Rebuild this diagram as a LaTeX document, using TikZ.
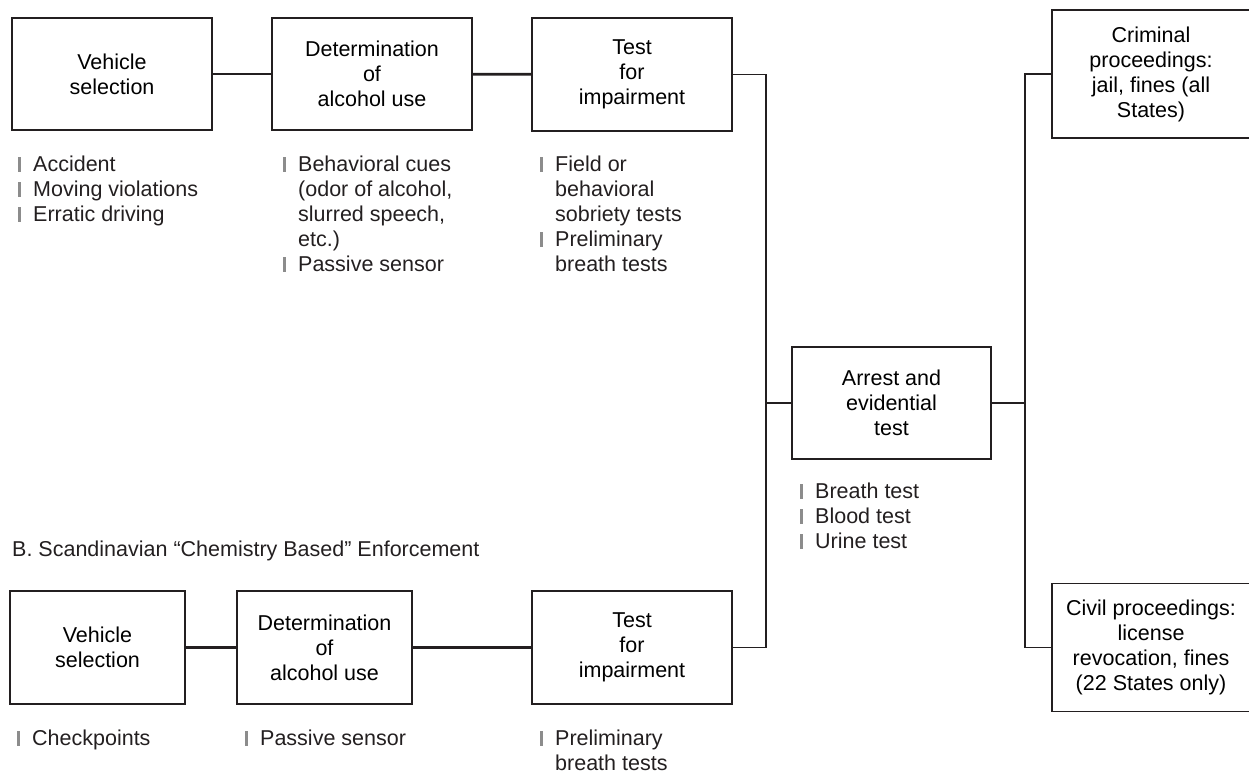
\documentclass[tikz,border=0pt]{standalone}
\usepackage{fontspec}
\setmainfont{Liberation Sans}
\usepackage{tikz}
\definecolor{ink}{HTML}{231F20}
\newcommand{\bul}{\makebox[15pt][l]{\textcolor{black!45}{\rule{2.6pt}{14.5pt}}}}
\newcommand{\ind}{\hspace*{15pt}}

\begin{document}
\begin{tikzpicture}[x=1pt,y=-1pt,
  box/.style={draw=ink,line width=1.7pt,align=center,inner sep=0pt,
    font=\fontsize{21.5}{25}\selectfont},
  itemlist/.style={anchor=north west,align=left,inner sep=0pt,text=ink,
    font=\fontsize{21.5}{25}\selectfont},
  link/.style={draw=ink,line width=2.8pt},
  route/.style={draw=ink,line width=1.9pt}]
  \useasboundingbox (0,0) rectangle (1249,775);
  \node[box,minimum width=200pt,minimum height=112pt] (vsA) at (112,74) {Vehicle\\selection};
  \node[box,minimum width=200pt,minimum height=112pt] (daA) at (372,74) {Determination\\of\\alcohol use};
  \node[box,minimum width=200pt,minimum height=113pt] (tiA) at (632,74.5) {Test\\for\\impairment};
  \node[box,minimum width=175pt,minimum height=113pt] (vsB) at (97.5,647.5) {Vehicle\\selection};
  \node[box,minimum width=175pt,minimum height=113pt] (daB) at (324.5,647.5) {Determination\\of\\alcohol use};
  \node[box,minimum width=200pt,minimum height=113pt] (tiB) at (632,647.5) {Test\\for\\impairment};
  \node[box,minimum width=199pt,minimum height=112pt] (arr) at (891.5,403) {Arrest and\\evidential\\test};
  \node[box,minimum width=198pt,minimum height=128pt] (crim) at (1151,74) {Criminal\\proceedings:\\jail, fines (all\\States)};
  \node[box,minimum width=198pt,minimum height=128pt] (civ) at (1151,647.5) {Civil proceedings:\\license\\revocation, fines\\(22 States only)};
  \coordinate (jL) at (766,403);
  \coordinate (jR) at (1025,403);
  \draw[link] (vsA) -- (daA);
  \draw[link] (daA) -- (tiA);
  \draw[link] (vsB) -- (daB);
  \draw[link] (daB) -- (tiB);
  \draw[route] (tiA.east) -| (jL) |- (tiB.east);
  \draw[route] (jL) -- (arr.west);
  \draw[route] (arr.east) -- (jR);
  \draw[route] (crim.west) -| (jR) |- (civ.west);
  \node[itemlist] (lvsA) at (18,156) {\bul Accident\\\bul Moving violations\\\bul Erratic driving};
  \node[itemlist] (ldaA) at (283,156) {\bul Behavioral cues\\\ind (odor of alcohol,\\\ind slurred speech,\\\ind etc.)\\\bul Passive sensor};
  \node[itemlist] (ltiA) at (540,156) {\bul Field or\\\ind behavioral\\\ind sobriety tests\\\bul Preliminary\\\ind breath tests};
  \node[itemlist] (larr) at (800,483) {\bul Breath test\\\bul Blood test\\\bul Urine test};
  \node[itemlist] (head) at (12,541) {B. Scandinavian “Chemistry Based” Enforcement};
  \node[itemlist] (lvsB) at (17,730) {\bul Checkpoints};
  \node[itemlist] (ldaB) at (245,730) {\bul Passive sensor};
  \node[itemlist] (ltiB) at (540,730) {\bul Preliminary\\\ind breath tests};
\end{tikzpicture}
\end{document}
